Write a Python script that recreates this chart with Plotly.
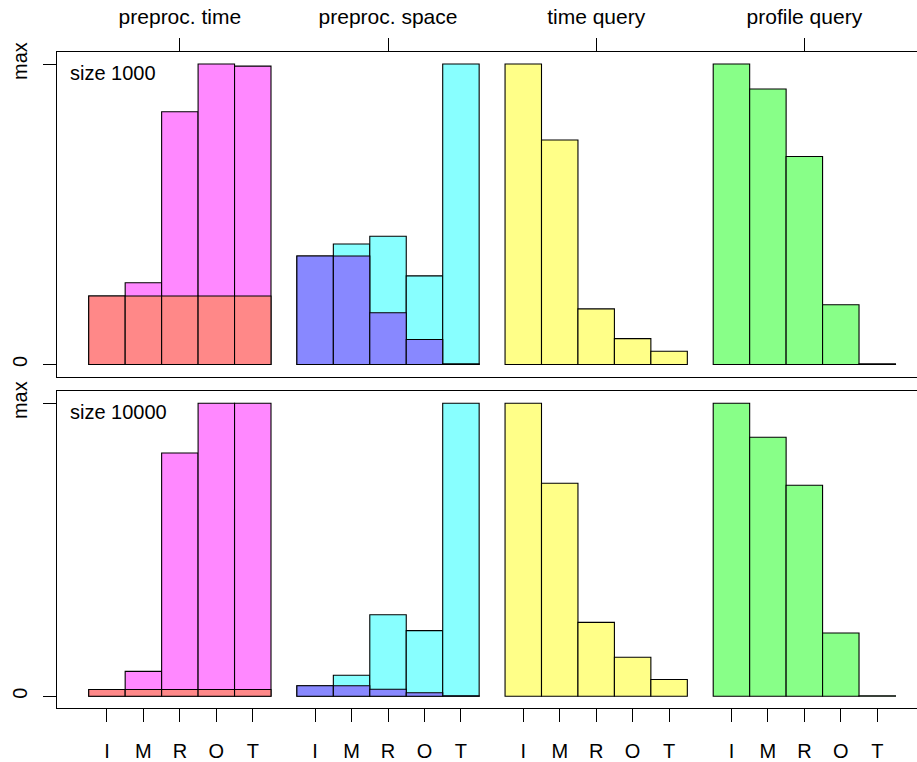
import plotly.graph_objects as go

# ---- data (fraction of maximum) ----
categories = ["I", "M", "R", "O", "T"]
groups = ["preproc. time", "preproc. space", "time query", "profile query"]
panels = ["size 1000", "size 10000"]

# preproc. time: total (magenta) overlaid by the red part
ptime_total_1000 = [0.228, 0.272, 0.841, 1.000, 0.993]
ptime_part_1000 = [0.228, 0.228, 0.228, 0.228, 0.228]
ptime_total_10000 = [0.023, 0.085, 0.830, 1.000, 1.000]
ptime_part_10000 = [0.023, 0.023, 0.023, 0.023, 0.023]

# preproc. space: total (cyan) overlaid by the blue part
pspace_total_1000 = [0.361, 0.401, 0.427, 0.295, 1.000]
pspace_part_1000 = [0.361, 0.361, 0.172, 0.083, 0.002]
pspace_total_10000 = [0.036, 0.072, 0.278, 0.224, 1.000]
pspace_part_10000 = [0.036, 0.036, 0.024, 0.012, 0.002]

# queries
tquery_1000 = [1.000, 0.747, 0.185, 0.086, 0.044]
tquery_10000 = [1.000, 0.727, 0.252, 0.133, 0.057]
pquery_1000 = [1.000, 0.917, 0.692, 0.199, 0.002]
pquery_10000 = [1.000, 0.884, 0.720, 0.216, 0.002]

# ---- styling ----
C_MAGENTA = "#FF88FF"
C_RED = "#FF8888"
C_CYAN = "#88FFFF"
C_BLUE = "#8888FF"
C_YELLOW = "#FFFF88"
C_GREEN = "#88FF88"

GAP = 5.71  # distance between group starts, in bar widths
FONT = "Liberation Sans, Arial, sans-serif"


def xs(g):
    return [g * GAP + k for k in range(len(categories))]


fig = go.Figure()

panel_series = [
    (ptime_total_1000, ptime_part_1000, pspace_total_1000, pspace_part_1000, tquery_1000, pquery_1000),
    (ptime_total_10000, ptime_part_10000, pspace_total_10000, pspace_part_10000, tquery_10000, pquery_10000),
]

for p, (pt_tot, pt_part, ps_tot, ps_part, tq, pq) in enumerate(panel_series):
    xa = "x" if p == 0 else "x2"
    ya = "y" if p == 0 else "y2"
    series = [
        (0, pt_tot, C_MAGENTA),
        (0, pt_part, C_RED),
        (1, ps_tot, C_CYAN),
        (1, ps_part, C_BLUE),
        (2, tq, C_YELLOW),
        (3, pq, C_GREEN),
    ]
    for g, vals, col in series:
        fig.add_trace(go.Bar(
            x=xs(g), y=vals, width=1.0, xaxis=xa, yaxis=ya,
            marker=dict(color=col, line=dict(color="black", width=1.1)),
            showlegend=False, hoverinfo="skip",
        ))

x_range = [-1.37, 22.22]
y_range = [-0.04, 1.04]
all_x = [v for g in range(len(groups)) for v in xs(g)]
group_centers = [g * GAP + 2 for g in range(len(groups))]

axis_common = dict(
    ticks="outside", ticklen=13, tickwidth=1, tickcolor="black",
    showgrid=False, zeroline=False, showline=True, linecolor="black", linewidth=1,
    tickfont=dict(family=FONT, size=20, color="black"),
)
ytick_font = dict(family=FONT, size=20, color="black")

fig.update_layout(
    width=917, height=762,
    margin=dict(l=57, r=0, t=52, b=51),
    paper_bgcolor="white", plot_bgcolor="white",
    barmode="overlay", bargap=0,
    xaxis=dict(domain=[0, 1], anchor="y", side="top", range=x_range,
               tickmode="array", tickvals=group_centers, ticktext=groups,
               mirror=True, ticklabelstandoff=6,
               **{**axis_common, "tickfont": dict(family=FONT, size=21, color="black")}),
    yaxis=dict(domain=[0.5053, 1], anchor="x", range=y_range,
               tickmode="array", tickvals=[0, 1], ticktext=["0", "max"],
               tickangle=-90, ticklabelstandoff=8, **{**axis_common, "tickfont": ytick_font}),
    xaxis2=dict(domain=[0, 1], anchor="y2", side="bottom", range=x_range,
                tickmode="array", tickvals=all_x, ticktext=categories * len(groups),
                mirror=True, ticklabelstandoff=12, **axis_common),
    yaxis2=dict(domain=[0, 0.4825], anchor="x2", range=y_range,
                tickmode="array", tickvals=[0, 1], ticktext=["0", "max"],
                tickangle=-90, ticklabelstandoff=8, **{**axis_common, "tickfont": ytick_font}),
)

for p, label in enumerate(panels):
    xr = "x domain" if p == 0 else "x2 domain"
    yr = "y domain" if p == 0 else "y2 domain"
    fig.add_annotation(text=label, x=0.0128, y=0.935, xref=xr, yref=yr,
                       xanchor="left", yanchor="middle", showarrow=False,
                       font=dict(family=FONT, size=20, color="black"))

# remove the browser's default 8px body margin so the figure fills the window exactly
fig.write_html(
    "out.html",
    config={"displayModeBar": False, "staticPlot": True},
    post_script="document.body.style.margin='0';document.body.style.overflow='hidden';",
)
